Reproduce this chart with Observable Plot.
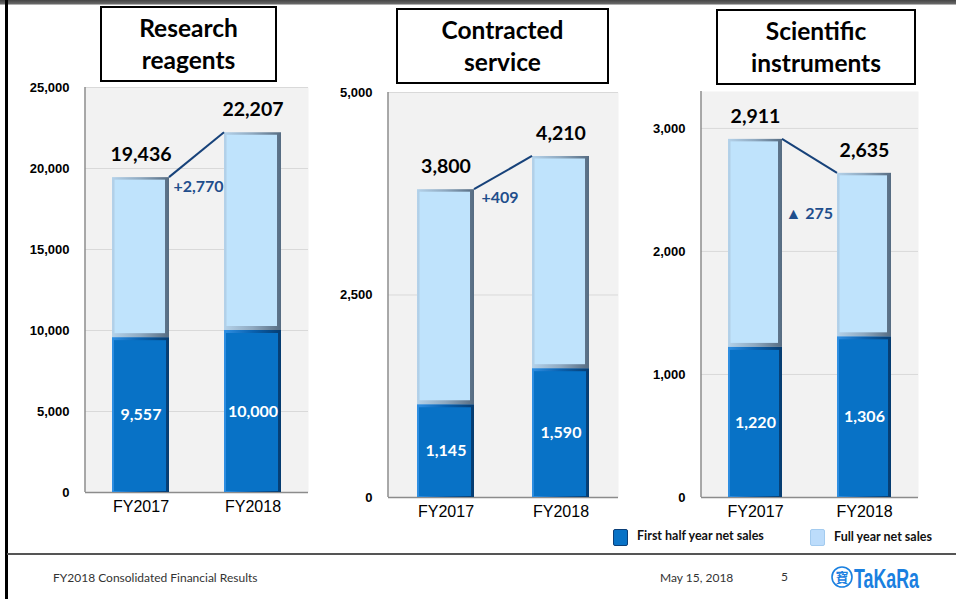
<!DOCTYPE html>
<html><head><meta charset="utf-8">
<script src="https://cdn.jsdelivr.net/npm/d3@7"></script>
<script src="https://cdn.jsdelivr.net/npm/@observablehq/plot@0.6"></script>
<style>
body{margin:0;background:#fff;}
#page{position:relative;width:956px;height:599px;overflow:hidden;font-family:Lato,sans-serif;background:#fff;}
.abs{position:absolute;}
.title{position:absolute;border:2px solid #000;background:#fff;box-sizing:border-box;display:flex;align-items:center;justify-content:center;text-align:center;font:bold 24.5px/32px Lato,sans-serif;color:#000;}
.leg{position:absolute;font:bold 12.5px Lato,sans-serif;color:#111;white-space:nowrap;}
.sw{position:absolute;width:15px;height:17px;box-sizing:border-box;border-radius:2px;}
.foot{position:absolute;font:12px Lato,sans-serif;color:#333;white-space:nowrap;}
</style></head><body>
<svg width="0" height="0" style="position:absolute">
  <defs>
    <linearGradient id="lightEdge" x1="0" x2="1" y1="0" y2="0">
      <stop offset="0" stop-color="#b4d2ea"/>
      <stop offset="0.5" stop-color="#8fa9c0"/>
      <stop offset="1" stop-color="#566c82"/>
    </linearGradient>
    <linearGradient id="darkEdge" x1="0" x2="1" y1="0" y2="0">
      <stop offset="0" stop-color="#2f8fe2"/>
      <stop offset="0.5" stop-color="#0a62b0"/>
      <stop offset="1" stop-color="#063c70"/>
    </linearGradient>
  </defs>
</svg>
<div id="page"></div>
<script>
const categories = ["FY2017", "FY2018"];
const segments = ["Research reagents", "Contracted service", "Scientific instruments"];
const titleLines = [["Research", "reagents"], ["Contracted", "service"], ["Scientific", "instruments"]];
const firstHalf = [[9557, 10000], [1145, 1590], [1220, 1306]];
const fullYear = [[19436, 22207], [3800, 4210], [2911, 2635]];
const changeLabels = ["+2,770", "+409", "▲ 275"];
const yTicks = [[0, 5000, 10000, 15000, 20000, 25000], [0, 2500, 5000], [0, 1000, 2000, 3000]];
const yDomains = [[0, 25000], [0, 5000], [0, 3300]];
const legendLabels = ["First half year net sales", "Full year net sales"];
const footerTitle = "FY2018 Consolidated Financial Results";
const footerDate = "May 15, 2018";
const pageNumber = "5";

const page = document.getElementById("page");
const fmt = d3.format(",");

// layout (positions / sizes only)
const layouts = [
  {left:10, top:70, w:310, h:460, ml:75, mr:12, mt:17, mb:38, pi:0.493, po:0.238, cdx:32.5, cdy:9,
   box:{l:100, t:6, w:177, h:76}},
  {left:320, top:70, w:310, h:460, ml:68, mr:12, mt:22, mb:33, pi:0.5065, po:0.249, cdx:35.5, cdy:8,
   box:{l:396, t:8, w:213, h:76}},
  {left:630, top:70, w:300, h:460, ml:71, mr:12, mt:21, mb:33, pi:0.509, po:0.241, cdx:30, cdy:75,
   box:{l:716, t:9, w:200, h:76}}
];

function panel(i, L) {
  const rows = categories.map((c, j) => ({cat: c, half: firstHalf[i][j], full: fullYear[i][j]}));
  const leftLine = (index, scales, values, dim) =>
    d3.create("svg:line")
      .attr("x1", dim.marginLeft).attr("x2", dim.marginLeft)
      .attr("y1", dim.marginTop).attr("y2", dim.height - dim.marginBottom)
      .attr("stroke", "#8c8c8c").attr("stroke-width", 1.5).node();
  const connector = (index, scales) => {
    const x = scales.x, y = scales.y, bw = x.bandwidth();
    return d3.create("svg:line")
      .attr("x1", x(rows[0].cat) + bw).attr("y1", y(rows[0].full))
      .attr("x2", x(rows[1].cat)).attr("y2", y(rows[1].full))
      .attr("stroke", "#17427a").attr("stroke-width", 2).node();
  };
  return Plot.plot({
    width: L.w, height: L.h,
    marginLeft: L.ml, marginRight: L.mr, marginTop: L.mt, marginBottom: L.mb,
    x: {domain: categories, paddingInner: L.pi, paddingOuter: L.po},
    y: {domain: yDomains[i]},
    style: {overflow: "visible", background: "transparent"},
    marks: [
      Plot.frame({fill: "#f2f2f2", stroke: null}),
      Plot.gridY(yTicks[i], {stroke: "#d9d9d9", strokeOpacity: 1}),
      Plot.ruleY([0], {stroke: "#8c8c8c", strokeWidth: 1.5}),
      leftLine,
      Plot.barY(rows, {x: "cat", y1: "half", y2: "full", fill: "url(#lightEdge)"}),
      Plot.barY(rows, {x: "cat", y1: "half", y2: "full", fill: "#bfe3fc", insetLeft: 2.5, insetRight: 4, insetTop: 2.5, insetBottom: 4}),
      Plot.barY(rows, {x: "cat", y1: 0, y2: "half", fill: "url(#darkEdge)"}),
      Plot.barY(rows, {x: "cat", y1: 0, y2: "half", fill: "#0872c6", insetLeft: 2, insetRight: 3, insetTop: 3, insetBottom: 1}),
      connector,
      Plot.text(rows, {x: "cat", y: "full", text: d => fmt(d.full), dy: -23, fontSize: 19.5, fontWeight: "bold", fill: "#000", fontFamily: "Lato"}),
      Plot.text(rows, {x: "cat", y: d => d.half / 2, text: d => fmt(d.half), fill: "#fff", fontSize: 16, fontWeight: "bold", fontFamily: "Lato"}),
      Plot.text([rows[0]], {x: "cat", y: "full", text: () => changeLabels[i], textAnchor: "start", dx: L.cdx, dy: L.cdy, fill: "#1f4e8c", fontSize: 16, fontWeight: "bold", fontFamily: "Lato"}),
      Plot.axisY(yTicks[i], {tickSize: 0, tickPadding: 16, fontSize: 13, fontWeight: "bold", fontFamily: "Liberation Sans", tickFormat: d3.format(","), fill: "#000", label: null}),
      Plot.axisX({tickSize: 0, tickPadding: 8, fontSize: 16, fontFamily: "Liberation Sans", fill: "#000", label: null})
    ]
  });
}

layouts.forEach((L, i) => {
  const svg = panel(i, L);
  svg.style.position = "absolute";
  svg.style.left = L.left + "px";
  svg.style.top = L.top + "px";
  page.appendChild(svg);
  const box = document.createElement("div");
  box.className = "title";
  box.style.left = L.box.l + "px"; box.style.top = L.box.t + "px";
  box.style.width = L.box.w + "px"; box.style.height = L.box.h + "px";
  box.innerHTML = titleLines[i].join("<br>");
  box.setAttribute("aria-label", segments[i]);
  page.appendChild(box);
});

// decorations
function addDiv(cls, styles, text) {
  const d = document.createElement("div");
  if (cls) d.className = cls;
  Object.assign(d.style, styles);
  if (text != null) d.textContent = text;
  page.appendChild(d);
  return d;
}
addDiv("abs", {left: "0px", top: "0px", width: "956px", height: "4px", background: "linear-gradient(#444,#6a6a6a)"});
addDiv("abs", {left: "0px", top: "4px", width: "956px", height: "1px", background: "#b0b0b0"});
addDiv("abs", {left: "5px", top: "0px", width: "2.5px", height: "599px", background: "#000"});
addDiv("abs", {left: "7px", top: "553px", width: "949px", height: "2px", background: "#555"});

// legend
addDiv("sw", {left: "613px", top: "529px", background: "#0872c6", border: "1.5px solid #0b3f78"});
addDiv("leg", {left: "637px", top: "528px"}, legendLabels[0]);
addDiv("sw", {left: "810px", top: "529px", background: "#bcdcfb", border: "1.5px solid #a3cbef"});
addDiv("leg", {left: "834px", top: "529px"}, legendLabels[1]);

// footer
addDiv("foot", {left: "53px", top: "570px"}, footerTitle);
addDiv("foot", {left: "660px", top: "570px"}, footerDate);
addDiv("foot", {left: "781px", top: "569px"}, pageNumber);
const logo = document.createElementNS("http://www.w3.org/2000/svg", "svg");
logo.setAttribute("width", "100"); logo.setAttribute("height", "34");
Object.assign(logo.style, {position: "absolute", left: "828px", top: "561px"});
logo.innerHTML = `<circle cx="14" cy="16" r="10" fill="none" stroke="#1a80e0" stroke-width="1.6"/>
<text x="14" y="20.5" text-anchor="middle" font-family="Noto Sans CJK JP" font-weight="bold" font-size="13" fill="#1a80e0">寶</text>
<text transform="translate(26,27) scale(0.66,1)" font-family="Liberation Sans" font-weight="bold" font-size="27" fill="#1a80e0">TaKaRa</text>`;
page.appendChild(logo);
</script>
</body></html>
